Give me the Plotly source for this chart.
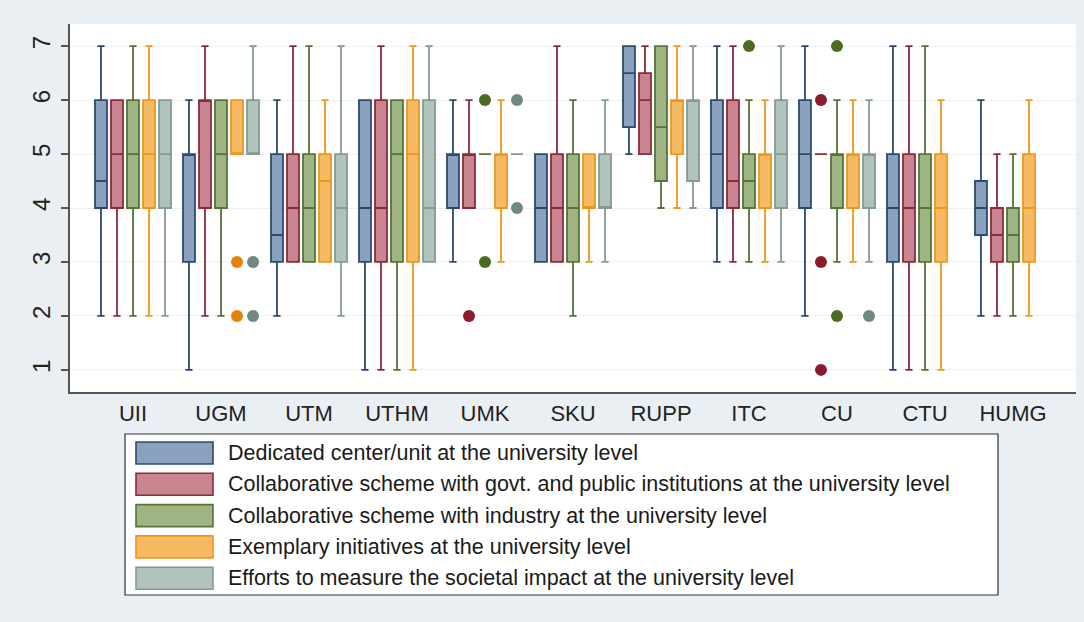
import plotly.graph_objects as go

universities = ["UII", "UGM", "UTM", "UTHM", "UMK", "SKU", "RUPP", "ITC", "CU", "CTU", "HUMG"]

series_names = [
    "Dedicated center/unit at the university level",
    "Collaborative scheme with govt. and public institutions at the university level",
    "Collaborative scheme with industry at the university level",
    "Exemplary initiatives at the university level",
    "Efforts to measure the societal impact at the university level",
]

# Dedicated center/unit
dc_low = [2, 1, 2, 1, 3, 3, 5, 3, 2, 1, 2]
dc_q1 = [4, 3, 3, 3, 4, 3, 5.5, 4, 4, 3, 3.5]
dc_med = [4.5, 5, 3.5, 4, 5, 4, 6.5, 5, 5, 4, 4]
dc_q3 = [6, 5, 5, 6, 5, 5, 7, 6, 6, 5, 4.5]
dc_up = [7, 6, 6, 6, 6, 5, 7, 7, 7, 7, 6]
dc_out_univ = []
dc_out_val = []

# Collaborative scheme with govt. and public institutions
gv_low = [2, 2, 3, 1, 4, 3, 5, 3, 5, 1, 2]
gv_q1 = [4, 4, 3, 3, 4, 3, 5, 4, 5, 3, 3]
gv_med = [5, 6, 4, 4, 5, 4, 6, 4.5, 5, 4, 3.5]
gv_q3 = [6, 6, 5, 6, 5, 5, 6.5, 6, 5, 5, 4]
gv_up = [6, 7, 7, 7, 6, 7, 7, 7, 5, 7, 5]
gv_out_univ = ["UMK", "CU", "CU", "CU"]
gv_out_val = [2, 6, 3, 1]

# Collaborative scheme with industry
ind_low = [2, 2, 3, 1, 5, 2, 4, 3, 3, 1, 2]
ind_q1 = [4, 4, 3, 3, 5, 3, 4.5, 4, 4, 3, 3]
ind_med = [5, 5, 4, 5, 5, 4, 5.5, 4.5, 5, 4, 3.5]
ind_q3 = [6, 6, 5, 6, 5, 5, 7, 5, 5, 5, 4]
ind_up = [7, 6, 7, 6, 5, 6, 7, 6, 6, 7, 5]
ind_out_univ = ["UMK", "UMK", "ITC", "CU", "CU"]
ind_out_val = [6, 3, 7, 7, 2]

# Exemplary initiatives
ex_low = [2, 5, 3, 1, 3, 3, 4, 3, 3, 1, 2]
ex_q1 = [4, 5, 3, 3, 4, 4, 5, 4, 4, 3, 3]
ex_med = [5, 5, 4.5, 5, 5, 4, 6, 5, 5, 4, 4]
ex_q3 = [6, 6, 5, 6, 5, 5, 6, 5, 5, 5, 5]
ex_up = [7, 6, 6, 7, 6, 5, 7, 6, 6, 6, 6]
ex_out_univ = ["UGM", "UGM"]
ex_out_val = [3, 2]

# Efforts to measure the societal impact (no data for CTU, HUMG)
so_low = [2, 5, 2, 3, 5, 3, 4, 3, 3, None, None]
so_q1 = [4, 5, 3, 3, 5, 4, 4.5, 4, 4, None, None]
so_med = [5, 5, 4, 4, 5, 4, 6, 5, 5, None, None]
so_q3 = [6, 6, 5, 6, 5, 5, 6, 6, 5, None, None]
so_up = [6, 7, 7, 7, 5, 6, 7, 7, 6, None, None]
so_out_univ = ["UGM", "UGM", "UMK", "UMK", "CU"]
so_out_val = [3, 2, 6, 4, 2]

y_ticks = [1, 2, 3, 4, 5, 6, 7]

stats = [
    (dc_low, dc_q1, dc_med, dc_q3, dc_up, dc_out_univ, dc_out_val),
    (gv_low, gv_q1, gv_med, gv_q3, gv_up, gv_out_univ, gv_out_val),
    (ind_low, ind_q1, ind_med, ind_q3, ind_up, ind_out_univ, ind_out_val),
    (ex_low, ex_q1, ex_med, ex_q3, ex_up, ex_out_univ, ex_out_val),
    (so_low, so_q1, so_med, so_q3, so_up, so_out_univ, so_out_val),
]

fills = ["#8aa2bf", "#c9858f", "#a0b483", "#f6b964", "#afc2bb"]
lines = ["#2c4a6e", "#8c2a3a", "#56733a", "#f0961e", "#849a94"]
dots = ["#2c4a6e", "#8e1b2c", "#4c6b22", "#e8800c", "#6e8882"]

STEP = 0.182   # offset between boxes within a group (category units)
BOXW = 0.136   # box width (category units)

fig = go.Figure()
for j, (lo, q1, md, q3, up, ou, ov) in enumerate(stats):
    xs, L, Q1, M, Q3, U = [], [], [], [], [], []
    for i in range(len(universities)):
        if md[i] is None:
            continue
        xs.append(i + (j - 2) * STEP)
        L.append(lo[i]); Q1.append(q1[i]); M.append(md[i]); Q3.append(q3[i]); U.append(up[i])
    fig.add_trace(go.Box(
        x=xs, lowerfence=L, q1=Q1, median=M, q3=Q3, upperfence=U,
        width=BOXW, whiskerwidth=0.6,
        fillcolor=fills[j], line=dict(color=lines[j], width=1.8),
        name=series_names[j], showlegend=False, boxpoints=False,
        hoverinfo="skip",
    ))
    if ou:
        fig.add_trace(go.Scatter(
            x=[universities.index(u) + (j - 2) * STEP for u in ou], y=ov,
            mode="markers", marker=dict(size=12, color=dots[j]),
            showlegend=False, hoverinfo="skip",
        ))

# plot area in pixels
W, H = 1084, 622
PL, PR, PT, PB = 70, 1076, 24, 392

def px_x(p):
    return (p - PL) / (PR - PL)

def px_y(p):
    return (PB - p) / (PB - PT)

# manual legend
shapes = [dict(type="rect", xref="paper", yref="paper",
               x0=px_x(125), x1=px_x(998), y0=px_y(595), y1=px_y(434),
               line=dict(color="#333333", width=1.2), fillcolor="white", layer="above")]
annotations = []
for j, name in enumerate(series_names):
    cy = 453 + j * 31.3
    shapes.append(dict(type="rect", xref="paper", yref="paper",
                       x0=px_x(136), x1=px_x(213), y0=px_y(cy + 11), y1=px_y(cy - 11),
                       line=dict(color=lines[j], width=1.6), fillcolor=fills[j], layer="above"))
    annotations.append(dict(xref="paper", yref="paper", x=px_x(226), y=px_y(cy),
                            xanchor="left", yanchor="middle", showarrow=False,
                            text=name, font=dict(size=21.5, color="#1a1a1a",
                                                 family="Liberation Sans, Arial, sans-serif")))

fig.update_layout(
    width=W, height=H,
    margin=dict(l=PL, r=W - PR, t=PT, b=H - PB),
    paper_bgcolor="#e9eff2", plot_bgcolor="white",
    font=dict(family="Liberation Sans, Arial, sans-serif", size=21, color="#222222"),
    boxmode="overlay",
    shapes=shapes, annotations=annotations,
    showlegend=False,
)
fig.update_xaxes(
    range=[-0.716, 10.716], tickmode="array",
    tickvals=list(range(len(universities))), ticktext=universities,
    showline=True, linecolor="#555555", linewidth=2, ticks="",
    showgrid=False, zeroline=False, ticklabelstandoff=1,
    tickfont=dict(size=22, color="#222222"),
)
fig.update_yaxes(
    range=[0.59, 7.41], tickmode="array", tickvals=y_ticks,
    showline=True, linecolor="#555555", linewidth=1.5,
    ticks="outside", ticklen=7, tickcolor="#555555", tickwidth=1.5,
    tickangle=-90, showgrid=True, gridcolor="#edf1f3", gridwidth=1,
    zeroline=False, tickfont=dict(size=24, color="#222222"),
    ticklabelstandoff=2,
)

fig.write_html(
    "out.html",
    config={"displayModeBar": False},
    post_script="document.body.style.margin='0';document.body.style.background='#e9eff2';",
)
